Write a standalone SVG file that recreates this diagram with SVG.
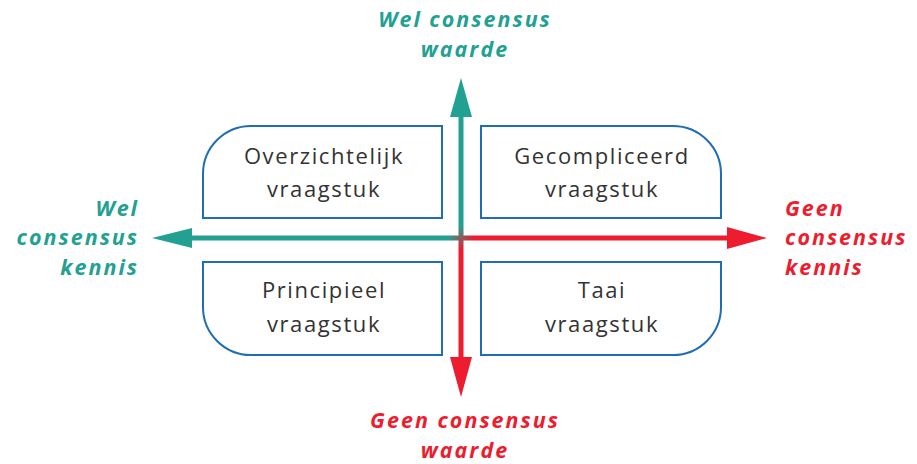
<svg xmlns="http://www.w3.org/2000/svg" width="917" height="464" viewBox="0 0 917 464">
<defs>
<style>
.box{fill:#fff;stroke:#1f6db3;stroke-width:2}
.bt{font-family:"Open Sans","Liberation Sans",sans-serif;font-size:22px;fill:#333;text-anchor:middle;letter-spacing:1.6px}
.lab{font-family:"Open Sans","Liberation Sans",sans-serif;font-size:21.5px;font-weight:700;font-style:italic;letter-spacing:2px}
.teal{fill:#22a192}
.red{fill:#ed1c2e}
</style>
<linearGradient id="gh" gradientUnits="userSpaceOnUse" x1="448" y1="0" x2="474" y2="0">
<stop offset="0" stop-color="#22a192"/><stop offset="1" stop-color="#ed1c2e"/>
</linearGradient>
<linearGradient id="gv" gradientUnits="userSpaceOnUse" x1="0" y1="226" x2="0" y2="250">
<stop offset="0" stop-color="#22a192"/><stop offset="1" stop-color="#ed1c2e"/>
</linearGradient>
</defs>
<g id="n-overzichtelijk">
<path class="box" d="M251,126 H442 V218 H203 V174 A48,48 0 0 1 251,126 Z"/>
<text class="bt" x="324" y="164">Overzichtelijk</text>
<text class="bt" x="324" y="197">vraagstuk</text>
</g>
<g id="n-gecompliceerd">
<path class="box" d="M481,126 H673 A48,48 0 0 1 721,174 V218 H481 Z"/>
<text class="bt" x="602" y="164">Gecompliceerd</text>
<text class="bt" x="602" y="197">vraagstuk</text>
</g>
<g id="n-principieel">
<path class="box" d="M203,262 H442 V355 H251 A48,48 0 0 1 203,307 Z"/>
<text class="bt" x="324" y="298">Principieel</text>
<text class="bt" x="324" y="332">vraagstuk</text>
</g>
<g id="n-taai">
<path class="box" d="M481,262 H721 V307 A48,48 0 0 1 673,355 H481 Z"/>
<text class="bt" x="602" y="298">Taai</text>
<text class="bt" x="602" y="332">vraagstuk</text>
</g>
<g id="connectors">
<path d="M188,238 H730" stroke="url(#gh)" stroke-width="5" fill="none"/>
<path d="M461,114 V360" stroke="url(#gv)" stroke-width="5" fill="none"/>
<polygon class="teal" points="152,238 192,228 192,248"/>
<polygon class="red" points="767,238 727,227 727,249"/>
<polygon class="teal" points="461,78 450,117 472,117"/>
<polygon class="red" points="461,397 450,357 472,357"/>
</g>
<g id="labels">
<text class="lab teal" x="465" y="27" text-anchor="middle">Wel consensus</text>
<text class="lab teal" x="465" y="57" text-anchor="middle">waarde</text>
<text class="lab teal" x="139" y="216" text-anchor="end">Wel</text>
<text class="lab teal" x="139" y="245" text-anchor="end">consensus</text>
<text class="lab teal" x="139" y="275" text-anchor="end">kennis</text>
<text class="lab red" x="785" y="216">Geen</text>
<text class="lab red" x="785" y="245">consensus</text>
<text class="lab red" x="785" y="275">kennis</text>
<text class="lab red" x="465" y="428" text-anchor="middle">Geen consensus</text>
<text class="lab red" x="465" y="458" text-anchor="middle">waarde</text>
</g>
</svg>
